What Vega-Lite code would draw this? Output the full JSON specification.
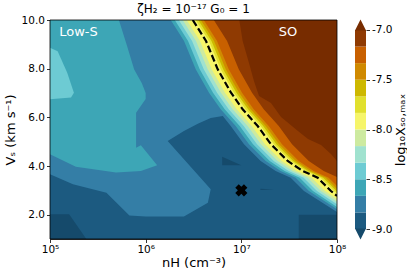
{
  "$schema": "https://vega.github.io/schema/vega-lite/v6.json",
  "padding": {"left": 4, "top": 3, "right": 0, "bottom": 0},
  "bounds": "flush",
  "spacing": 18,
  "config": {
    "font": "DejaVu Sans",
    "view": {"stroke": null},
    "axis": {
      "labelFont": "DejaVu Sans", "labelFontSize": 10.5, "labelColor": "black",
      "titleFont": "DejaVu Sans", "titleFontSize": 13, "titleFontWeight": "normal", "titleColor": "black",
      "tickColor": "black", "tickSize": 3.5, "tickWidth": 0.8,
      "domainColor": "black", "domainWidth": 0.8, "grid": false, "labelPadding": 2, "zindex": 1
    }
  },
  "hconcat": [
    {
      "width": 287,
      "height": 219,
      "title": {"text": "ζH₂ = 10⁻¹⁷ G₀ = 1", "fontSize": 12, "fontWeight": "normal", "color": "black", "offset": -1, "anchor": "middle", "frame": "group"},
      "layer": [
        {
          "data": {"values": [
            {"g":"bg","v":1,"x":5,"y":1},{"g":"bg","v":1,"x":8,"y":1},{"g":"bg","v":1,"x":8,"y":10},{"g":"bg","v":1,"x":5,"y":10},
            {"g":"u1","v":0,"x":5,"y":1},{"g":"u1","v":0,"x":5,"y":2.015},{"g":"u1","v":0,"x":5.2,"y":2.015},{"g":"u1","v":0,"x":5.38,"y":1},
            {"g":"u2","v":0,"x":7.6,"y":1},{"g":"u2","v":0,"x":7.6,"y":2.0},{"g":"u2","v":0,"x":8,"y":2.0},{"g":"u2","v":0,"x":8,"y":1},
            {"g":"u3","v":0,"x":6.8,"y":4.38},{"g":"u3","v":0,"x":6.8,"y":4.03},{"g":"u3","v":0,"x":7.0,"y":4.03},
            {"g":"u4","v":0,"x":7.2,"y":3.06},{"g":"u4","v":0,"x":7.34,"y":3.03},{"g":"u4","v":0,"x":7.2,"y":3.01},
            {"g":"L2","v":2,"x":5,"y":3.66},{"g":"L2","v":2,"x":5.24,"y":3.25},{"g":"L2","v":2,"x":5.59,"y":2.9},{"g":"L2","v":2,"x":5.83,"y":1.97},{"g":"L2","v":2,"x":6.0,"y":1.92},{"g":"L2","v":2,"x":6.4,"y":1.92},{"g":"L2","v":2,"x":6.65,"y":2.49},{"g":"L2","v":2,"x":6.68,"y":3.04},{"g":"L2","v":2,"x":6.23,"y":5.03},{"g":"L2","v":2,"x":6.4,"y":5.44},{"g":"L2","v":2,"x":6.55,"y":5.75},{"g":"L2","v":2,"x":6.68,"y":5.97},{"g":"L2","v":2,"x":6.806,"y":6.05},{"g":"L2","v":2,"x":6.889,"y":5.644},{"g":"L2","v":2,"x":7.028,"y":4.892},{"g":"L2","v":2,"x":7.202,"y":4.205},{"g":"L2","v":2,"x":7.359,"y":3.795},{"g":"L2","v":2,"x":7.516,"y":3.519},{"g":"L2","v":2,"x":7.655,"y":2.973},{"g":"L2","v":2,"x":8,"y":2.11},{"g":"L2","v":2,"x":8,"y":10},{"g":"L2","v":2,"x":5,"y":10},
            {"g":"T3","v":3,"x":5,"y":10},{"g":"T3","v":3,"x":5.72,"y":10},{"g":"T3","v":3,"x":5.8,"y":9.0},{"g":"T3","v":3,"x":5.88,"y":7.97},{"g":"T3","v":3,"x":5.96,"y":7.4},{"g":"T3","v":3,"x":6.0,"y":7.0},{"g":"T3","v":3,"x":6.0,"y":6.75},{"g":"T3","v":3,"x":5.9,"y":6.19},{"g":"T3","v":3,"x":5.9,"y":4.75},{"g":"T3","v":3,"x":5.95,"y":4.85},{"g":"T3","v":3,"x":6.12,"y":4.03},{"g":"T3","v":3,"x":5.95,"y":3.79},{"g":"T3","v":3,"x":5.69,"y":3.73},{"g":"T3","v":3,"x":5.27,"y":3.97},{"g":"T3","v":3,"x":5,"y":4.48},
            {"g":"L3","v":3,"x":6.262,"y":10},{"g":"L3","v":3,"x":6.401,"y":9.137},{"g":"L3","v":3,"x":6.523,"y":7.974},{"g":"L3","v":3,"x":6.662,"y":7.012},{"g":"L3","v":3,"x":6.784,"y":6.33},{"g":"L3","v":3,"x":6.941,"y":5.644},{"g":"L3","v":3,"x":7.08,"y":4.892},{"g":"L3","v":3,"x":7.255,"y":4.205},{"g":"L3","v":3,"x":7.411,"y":3.795},{"g":"L3","v":3,"x":7.568,"y":3.519},{"g":"L3","v":3,"x":7.707,"y":2.973},{"g":"L3","v":3,"x":8,"y":2.22},{"g":"L3","v":3,"x":8,"y":10},
            {"g":"T4","v":4,"x":5,"y":8.86},{"g":"T4","v":4,"x":5.08,"y":8.72},{"g":"T4","v":4,"x":5.18,"y":7.83},{"g":"T4","v":4,"x":5.25,"y":7.01},{"g":"T4","v":4,"x":5.22,"y":6.81},{"g":"T4","v":4,"x":5,"y":6.74},
            {"g":"L4","v":4,"x":6.304,"y":10},{"g":"L4","v":4,"x":6.443,"y":9.137},{"g":"L4","v":4,"x":6.565,"y":7.974},{"g":"L4","v":4,"x":6.704,"y":7.012},{"g":"L4","v":4,"x":6.826,"y":6.33},{"g":"L4","v":4,"x":6.983,"y":5.644},{"g":"L4","v":4,"x":7.122,"y":4.892},{"g":"L4","v":4,"x":7.297,"y":4.205},{"g":"L4","v":4,"x":7.453,"y":3.795},{"g":"L4","v":4,"x":7.61,"y":3.519},{"g":"L4","v":4,"x":7.749,"y":2.973},{"g":"L4","v":4,"x":8,"y":2.315},{"g":"L4","v":4,"x":8,"y":10},
            {"g":"L5","v":5,"x":6.346,"y":10},{"g":"L5","v":5,"x":6.485,"y":9.137},{"g":"L5","v":5,"x":6.607,"y":7.974},{"g":"L5","v":5,"x":6.746,"y":7.012},{"g":"L5","v":5,"x":6.868,"y":6.33},{"g":"L5","v":5,"x":7.025,"y":5.644},{"g":"L5","v":5,"x":7.164,"y":4.892},{"g":"L5","v":5,"x":7.339,"y":4.205},{"g":"L5","v":5,"x":7.495,"y":3.795},{"g":"L5","v":5,"x":7.652,"y":3.519},{"g":"L5","v":5,"x":7.791,"y":2.973},{"g":"L5","v":5,"x":8,"y":2.426},{"g":"L5","v":5,"x":8,"y":10},
            {"g":"L6","v":6,"x":6.387,"y":10},{"g":"L6","v":6,"x":6.526,"y":9.137},{"g":"L6","v":6,"x":6.648,"y":7.974},{"g":"L6","v":6,"x":6.787,"y":7.012},{"g":"L6","v":6,"x":6.909,"y":6.33},{"g":"L6","v":6,"x":7.066,"y":5.644},{"g":"L6","v":6,"x":7.205,"y":4.892},{"g":"L6","v":6,"x":7.38,"y":4.205},{"g":"L6","v":6,"x":7.536,"y":3.795},{"g":"L6","v":6,"x":7.693,"y":3.519},{"g":"L6","v":6,"x":7.832,"y":2.973},{"g":"L6","v":6,"x":8,"y":2.533},{"g":"L6","v":6,"x":8,"y":10},
            {"g":"L7","v":7,"x":6.429,"y":10},{"g":"L7","v":7,"x":6.568,"y":9.137},{"g":"L7","v":7,"x":6.69,"y":7.974},{"g":"L7","v":7,"x":6.829,"y":7.012},{"g":"L7","v":7,"x":6.951,"y":6.33},{"g":"L7","v":7,"x":7.108,"y":5.644},{"g":"L7","v":7,"x":7.247,"y":4.892},{"g":"L7","v":7,"x":7.422,"y":4.205},{"g":"L7","v":7,"x":7.578,"y":3.795},{"g":"L7","v":7,"x":7.735,"y":3.519},{"g":"L7","v":7,"x":7.874,"y":2.973},{"g":"L7","v":7,"x":8,"y":2.644},{"g":"L7","v":7,"x":8,"y":10},
            {"g":"L8","v":8,"x":6.523,"y":10},{"g":"L8","v":8,"x":6.662,"y":9.137},{"g":"L8","v":8,"x":6.784,"y":7.974},{"g":"L8","v":8,"x":6.923,"y":7.012},{"g":"L8","v":8,"x":7.045,"y":6.33},{"g":"L8","v":8,"x":7.202,"y":5.644},{"g":"L8","v":8,"x":7.341,"y":4.892},{"g":"L8","v":8,"x":7.516,"y":4.205},{"g":"L8","v":8,"x":7.672,"y":3.795},{"g":"L8","v":8,"x":7.829,"y":3.519},{"g":"L8","v":8,"x":7.968,"y":2.973},{"g":"L8","v":8,"x":8.031,"y":2.767},{"g":"L8","v":8,"x":8.3,"y":10},
            {"g":"L9","v":9,"x":6.549,"y":10},{"g":"L9","v":9,"x":6.688,"y":9.137},{"g":"L9","v":9,"x":6.81,"y":7.974},{"g":"L9","v":9,"x":6.949,"y":7.012},{"g":"L9","v":9,"x":7.071,"y":6.33},{"g":"L9","v":9,"x":7.228,"y":5.644},{"g":"L9","v":9,"x":7.367,"y":4.892},{"g":"L9","v":9,"x":7.542,"y":4.205},{"g":"L9","v":9,"x":7.698,"y":3.795},{"g":"L9","v":9,"x":7.855,"y":3.519},{"g":"L9","v":9,"x":7.994,"y":2.973},{"g":"L9","v":9,"x":8.057,"y":2.767},{"g":"L9","v":9,"x":8.3,"y":10},
            {"g":"L10","v":10,"x":6.576,"y":10},{"g":"L10","v":10,"x":6.715,"y":9.137},{"g":"L10","v":10,"x":6.837,"y":7.974},{"g":"L10","v":10,"x":6.976,"y":7.012},{"g":"L10","v":10,"x":7.098,"y":6.33},{"g":"L10","v":10,"x":7.255,"y":5.644},{"g":"L10","v":10,"x":7.394,"y":4.892},{"g":"L10","v":10,"x":7.569,"y":4.205},{"g":"L10","v":10,"x":7.725,"y":3.795},{"g":"L10","v":10,"x":7.882,"y":3.519},{"g":"L10","v":10,"x":8.021,"y":2.973},{"g":"L10","v":10,"x":8.3,"y":10},
            {"g":"L11","v":11,"x":6.607,"y":10},{"g":"L11","v":11,"x":6.746,"y":9.137},{"g":"L11","v":11,"x":6.868,"y":7.974},{"g":"L11","v":11,"x":7.007,"y":7.012},{"g":"L11","v":11,"x":7.129,"y":6.33},{"g":"L11","v":11,"x":7.286,"y":5.644},{"g":"L11","v":11,"x":7.425,"y":4.892},{"g":"L11","v":11,"x":7.6,"y":4.205},{"g":"L11","v":11,"x":7.756,"y":3.795},{"g":"L11","v":11,"x":7.913,"y":3.519},{"g":"L11","v":11,"x":8.052,"y":2.973},{"g":"L11","v":11,"x":8.3,"y":10},
            {"g":"L12","v":12,"x":6.712,"y":10},{"g":"L12","v":12,"x":6.851,"y":9.137},{"g":"L12","v":12,"x":6.973,"y":7.974},{"g":"L12","v":12,"x":7.112,"y":7.012},{"g":"L12","v":12,"x":7.234,"y":6.33},{"g":"L12","v":12,"x":7.391,"y":5.644},{"g":"L12","v":12,"x":7.53,"y":4.892},{"g":"L12","v":12,"x":7.705,"y":4.205},{"g":"L12","v":12,"x":7.861,"y":3.795},{"g":"L12","v":12,"x":8.018,"y":3.519},{"g":"L12","v":12,"x":8.157,"y":2.973},{"g":"L12","v":12,"x":8.3,"y":10},
            {"g":"L13","v":13,"x":6.979,"y":10},{"g":"L13","v":13,"x":7.014,"y":9.137},{"g":"L13","v":13,"x":7.08,"y":8.233},{"g":"L13","v":13,"x":7.132,"y":7.493},{"g":"L13","v":13,"x":7.185,"y":6.877},{"g":"L13","v":13,"x":7.31,"y":6.589},{"g":"L13","v":13,"x":7.415,"y":6.014},{"g":"L13","v":13,"x":7.592,"y":5.438},{"g":"L13","v":13,"x":7.697,"y":5.11},{"g":"L13","v":13,"x":7.833,"y":4.863},{"g":"L13","v":13,"x":7.937,"y":4.493},{"g":"L13","v":13,"x":8,"y":4.205},{"g":"L13","v":13,"x":8,"y":10}
          ]},
          "mark": {"type": "line", "strokeWidth": 0, "clip": true},
          "encoding": {
            "x": {"field": "x", "type": "quantitative", "scale": {"domain": [5, 8], "nice": false, "zero": false},
                  "axis": {"values": [5, 6, 7, 8], "labelExpr": "datum.value == 5 ? '10⁵' : datum.value == 6 ? '10⁶' : datum.value == 7 ? '10⁷' : '10⁸'", "labelFlush": false, "labelOverlap": false, "title": "nH (cm⁻³)", "titlePadding": 1}},
            "y": {"field": "y", "type": "quantitative", "scale": {"domain": [1, 10], "nice": false, "zero": false},
                  "axis": {"values": [2, 4, 6, 8, 10], "format": ".1f", "title": "Vₛ (km s⁻¹)", "titlePadding": 4}},
            "detail": {"field": "g"},
            "order": {"value": null},
            "fill": {"field": "v", "type": "ordinal", "legend": null,
                     "scale": {"domain": [0,1,2,3,4,5,6,7,8,9,10,11,12,13],
                               "range": ["#154a6b","#1c5a80","#347ea6","#3da6b6","#6dcbd3","#a0e2cf","#cdeaa0","#f6f56a","#e1e02e","#cdb800","#d08a00","#c86000","#8f3a02","#772c00"]}}
          }
        },
        {
          "data": {"values": [
            {"x":6.492,"y":10},{"x":6.631,"y":9.137},{"x":6.753,"y":7.974},{"x":6.892,"y":7.012},{"x":7.014,"y":6.33},{"x":7.171,"y":5.644},{"x":7.31,"y":4.892},{"x":7.485,"y":4.205},{"x":7.641,"y":3.795},{"x":7.798,"y":3.519},{"x":7.937,"y":2.973},{"x":8.0,"y":2.767}
          ]},
          "mark": {"type": "line", "color": "black", "strokeWidth": 2.2, "strokeDash": [7, 3], "clip": true},
          "encoding": {
            "x": {"field": "x", "type": "quantitative"},
            "y": {"field": "y", "type": "quantitative"},
            "order": {"value": null}
          }
        },
        {
          "data": {"values": [{"x": 5.298, "y": 9.36, "t": "Low-S"}, {"x": 7.488, "y": 9.36, "t": "SO"}]},
          "mark": {"type": "text", "color": "white", "fontSize": 13, "align": "center", "baseline": "alphabetic"},
          "encoding": {
            "x": {"field": "x", "type": "quantitative"},
            "y": {"field": "y", "type": "quantitative"},
            "text": {"field": "t"}
          }
        },
        {
          "data": {"values": [{"x": 7, "y": 3}]},
          "mark": {"type": "point", "shape": "cross", "angle": 45, "filled": true, "color": "black", "size": 150, "opacity": 1},
          "encoding": {
            "x": {"field": "x", "type": "quantitative"},
            "y": {"field": "y", "type": "quantitative"}
          }
        },
        {
          "data": {"values": [{"x": 5, "x2": 8, "y": 1, "y2": 10}]},
          "mark": {"type": "rect", "fill": null, "stroke": "black", "strokeWidth": 0.8},
          "encoding": {
            "x": {"field": "x", "type": "quantitative"},
            "x2": {"field": "x2"},
            "y": {"field": "y", "type": "quantitative"},
            "y2": {"field": "y2"}
          }
        }
      ]
    },
    {
      "width": 11,
      "height": 219,
      "layer": [
        {
          "data": {"values": [
            {"lo": -9.0, "hi": -8.8333, "v": 1}, {"lo": -8.8333, "hi": -8.6667, "v": 2}, {"lo": -8.6667, "hi": -8.5, "v": 3},
            {"lo": -8.5, "hi": -8.3333, "v": 4}, {"lo": -8.3333, "hi": -8.1667, "v": 5}, {"lo": -8.1667, "hi": -8.0, "v": 6},
            {"lo": -8.0, "hi": -7.8333, "v": 7}, {"lo": -7.8333, "hi": -7.6667, "v": 8}, {"lo": -7.6667, "hi": -7.5, "v": 9},
            {"lo": -7.5, "hi": -7.3333, "v": 10}, {"lo": -7.3333, "hi": -7.1667, "v": 11}, {"lo": -7.1667, "hi": -7.0, "v": 12}
          ]},
          "mark": {"type": "rect", "strokeWidth": 0},
          "encoding": {
            "x": {"datum": 0, "type": "quantitative", "scale": {"domain": [0, 1], "nice": false, "zero": false}, "axis": null},
            "x2": {"datum": 1},
            "y": {"field": "lo", "type": "quantitative", "scale": {"domain": [-9.1, -6.9], "nice": false, "zero": false},
                  "axis": {"orient": "right", "values": [-9, -8.5, -8, -7.5, -7], "labelExpr": "(datum.value < 0 ? '-' : '') + format(abs(datum.value), '.1f')", "domain": false, "title": "log₁₀Xₛₒ,ₘₐₓ", "titleAngle": 270, "titleBaseline": "top", "titlePadding": 3}},
            "y2": {"field": "hi"},
            "fill": {"field": "v", "type": "ordinal", "legend": null,
                     "scale": {"domain": [0,1,2,3,4,5,6,7,8,9,10,11,12,13],
                               "range": ["#154a6b","#1c5a80","#347ea6","#3da6b6","#6dcbd3","#a0e2cf","#cdeaa0","#f6f56a","#e1e02e","#cdb800","#d08a00","#c86000","#8f3a02","#772c00"]}}
          }
        },
        {
          "data": {"values": [{"lo": -6.95, "v": 13, "s": "up"}, {"lo": -9.05, "v": 0, "s": "down"}]},
          "mark": {"type": "point", "filled": true, "size": 121, "strokeWidth": 0, "opacity": 1},
          "encoding": {
            "x": {"datum": 0.5, "type": "quantitative"},
            "y": {"field": "lo", "type": "quantitative"},
            "shape": {"field": "s", "type": "nominal", "legend": null, "scale": {"domain": ["up", "down"], "range": ["M-1,1L0,-1L1,1Z", "M-1,-1L0,1L1,-1Z"]}},
            "fill": {"field": "v", "type": "ordinal", "legend": null}
          }
        }
      ]
    }
  ]
}
